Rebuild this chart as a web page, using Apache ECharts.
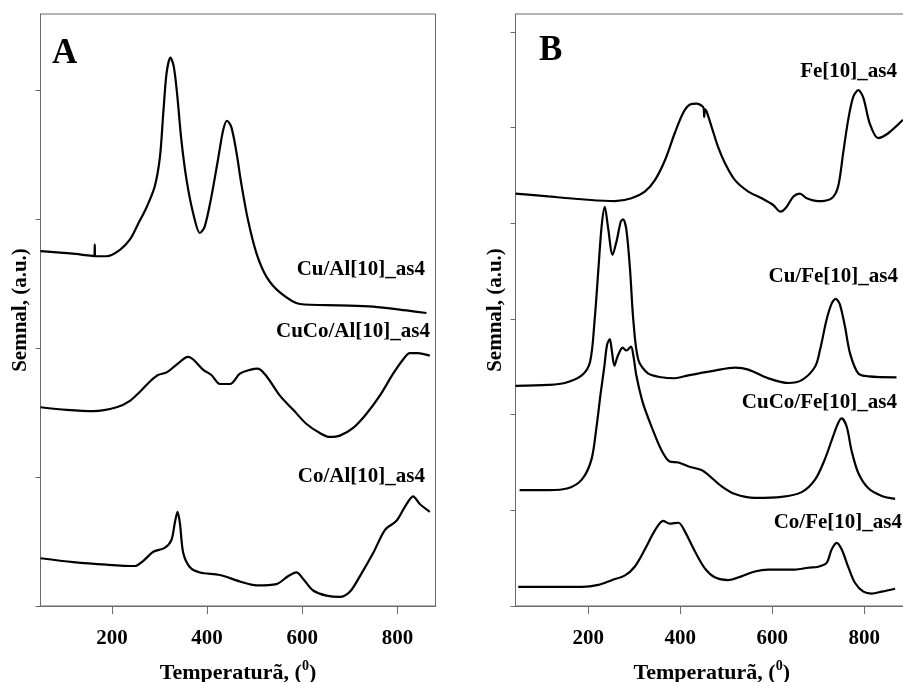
<!DOCTYPE html>
<html>
<head>
<meta charset="utf-8">
<script src="https://cdn.jsdelivr.net/npm/echarts@6.0.0/dist/echarts.min.js"></script>
<style>
html,body{margin:0;padding:0;background:#fff;}
#chart{width:903px;height:682px;}
</style>
</head>
<body>
<div id="chart"></div>
<script>
// ---------- DATA ----------
// Panel A
const tempCuAl = [50, 118, 163, 164, 165, 189, 217, 238, 255, 273, 290, 301, 308, 315, 323, 330, 337, 346, 357, 371, 385, 395, 409, 423, 434, 442, 451, 462, 472, 486, 504, 525, 553, 595, 679, 749, 819, 861];
const sigCuAl  = [2.75, 2.73, 2.71, 2.80, 2.71, 2.71, 2.76, 2.84, 2.96, 3.09, 3.25, 3.48, 3.82, 4.13, 4.25, 4.18, 3.97, 3.61, 3.30, 3.04, 2.89, 2.94, 3.17, 3.46, 3.69, 3.76, 3.71, 3.51, 3.27, 2.99, 2.73, 2.55, 2.43, 2.34, 2.33, 2.32, 2.29, 2.27];

const tempCuCoAl = [50, 105, 161, 210, 238, 259, 280, 297, 315, 336, 360, 371, 392, 409, 427, 448, 469, 490, 507, 525, 553, 581, 609, 637, 658, 679, 707, 735, 763, 791, 812, 826, 843, 868];
const sigCuCoAl  = [1.54, 1.52, 1.51, 1.54, 1.59, 1.66, 1.74, 1.79, 1.81, 1.87, 1.93, 1.91, 1.83, 1.79, 1.72, 1.72, 1.80, 1.83, 1.84, 1.78, 1.63, 1.52, 1.41, 1.34, 1.31, 1.32, 1.38, 1.49, 1.63, 1.80, 1.91, 1.96, 1.96, 1.94];

const tempCoAl = [50, 119, 189, 248, 266, 287, 311, 325, 332, 338, 343, 350, 364, 385, 427, 469, 504, 546, 570, 588, 602, 623, 651, 679, 700, 721, 749, 774, 798, 816, 833, 847, 868];
const sigCoAl  = [0.37, 0.34, 0.32, 0.31, 0.35, 0.42, 0.45, 0.51, 0.64, 0.73, 0.64, 0.41, 0.30, 0.26, 0.24, 0.19, 0.16, 0.17, 0.23, 0.26, 0.21, 0.12, 0.08, 0.07, 0.11, 0.23, 0.41, 0.59, 0.66, 0.77, 0.85, 0.79, 0.73];

// Panel B
const tempFe = [42, 113, 186, 258, 294, 323, 345, 367, 388, 406, 421, 436, 446, 451, 452, 454, 457, 468, 482, 497, 519, 548, 577, 602, 618, 631, 646, 660, 675, 700, 729, 743, 754, 765, 776, 787, 798, 812, 830, 852, 884];
const sigFe  = [4.31, 4.28, 4.25, 4.23, 4.26, 4.33, 4.45, 4.66, 4.94, 5.15, 5.24, 5.25, 5.23, 5.20, 5.11, 5.19, 5.17, 5.01, 4.80, 4.63, 4.45, 4.33, 4.26, 4.19, 4.12, 4.17, 4.28, 4.31, 4.26, 4.23, 4.26, 4.38, 4.73, 5.08, 5.32, 5.39, 5.31, 5.04, 4.89, 4.94, 5.08];

const tempCuFe = [42, 113, 149, 186, 204, 214, 222, 229, 236, 243, 253, 262, 271, 276, 283, 291, 298, 309, 330, 359, 388, 417, 475, 519, 548, 591, 635, 664, 693, 704, 718, 729, 738, 747, 758, 769, 787, 809, 870];
const sigCuFe  = [2.30, 2.31, 2.33, 2.41, 2.55, 2.99, 3.51, 3.96, 4.17, 3.96, 3.67, 3.82, 4.02, 4.04, 3.93, 3.51, 2.99, 2.57, 2.43, 2.39, 2.38, 2.41, 2.46, 2.49, 2.47, 2.38, 2.33, 2.36, 2.50, 2.68, 2.99, 3.16, 3.21, 3.15, 2.92, 2.64, 2.43, 2.40, 2.39];

const tempCuCoFe = [51, 113, 156, 186, 207, 218, 227, 235, 241, 247, 251, 257, 264, 275, 283, 293, 298, 305, 319, 338, 359, 377, 396, 417, 446, 461, 490, 519, 562, 620, 664, 693, 714, 732, 743, 751, 762, 772, 787, 809, 838, 867];
const sigCuCoFe  = [1.21, 1.21, 1.23, 1.32, 1.53, 1.87, 2.22, 2.50, 2.73, 2.79, 2.68, 2.51, 2.61, 2.70, 2.67, 2.71, 2.62, 2.40, 2.12, 1.87, 1.63, 1.51, 1.50, 1.46, 1.42, 1.37, 1.25, 1.17, 1.13, 1.14, 1.19, 1.32, 1.53, 1.77, 1.91, 1.96, 1.87, 1.63, 1.39, 1.23, 1.15, 1.12];

const tempCoFe = [48, 113, 186, 222, 251, 280, 301, 323, 345, 363, 377, 396, 410, 432, 454, 475, 504, 533, 562, 591, 620, 649, 678, 700, 718, 729, 740, 751, 765, 780, 798, 816, 838, 867];
const sigCoFe  = [0.20, 0.20, 0.20, 0.22, 0.27, 0.32, 0.41, 0.59, 0.79, 0.89, 0.86, 0.87, 0.78, 0.57, 0.39, 0.30, 0.27, 0.31, 0.36, 0.38, 0.38, 0.38, 0.40, 0.41, 0.45, 0.59, 0.66, 0.59, 0.41, 0.24, 0.15, 0.13, 0.15, 0.18];

// Axis ticks and labels
const xTickValues = [200, 400, 600, 800];
const yTickValuesA = [0, 1, 2, 3, 4];
const yTickValuesB = [0, 1, 2, 3, 4, 5, 6];
const seriesNamesA = ['Cu/Al[10]_as4', 'CuCo/Al[10]_as4', 'Co/Al[10]_as4'];
const seriesNamesB = ['Fe[10]_as4', 'Cu/Fe[10]_as4', 'CuCo/Fe[10]_as4', 'Co/Fe[10]_as4'];
const panelLetters = ['A', 'B'];
const xTitle = 'Temperaturã, (';
const xTitleSup = '0';
const yTitle = 'Semnal, (a.u.)';

// ---------- CHART ----------
const serif = '"Liberation Serif", "Times New Roman", serif';
const axisGray = '#6a6a6a';

function pairs(t, s) { return t.map((v, i) => [v, s[i]]); }

function makeX(gi, min, max) {
  return {
    type: 'value', gridIndex: gi, min: min, max: max,
    axisLine: { show: true, onZero: false, lineStyle: { color: axisGray, width: 1 } },
    axisTick: { show: true, length: 8, customValues: xTickValues, lineStyle: { color: axisGray } },
    axisLabel: { show: true, customValues: xTickValues, margin: 22, fontFamily: serif, fontWeight: 'bold', fontSize: 21, color: '#000' },
    splitLine: { show: false },
    name: '{t|' + xTitle + '}{s|' + xTitleSup + '}{t|)}',
    nameLocation: 'middle', nameGap: 53,
    nameTextStyle: {
      rich: {
        t: { fontFamily: serif, fontWeight: 'bold', fontSize: 22, color: '#000' },
        s: { fontFamily: serif, fontWeight: 'bold', fontSize: 14, color: '#000', padding: [0, 0, 14, 0] }
      }
    }
  };
}
function makeY(gi, max, ticks) {
  return {
    type: 'value', gridIndex: gi, min: 0, max: max,
    axisLine: { show: true, onZero: false, lineStyle: { color: axisGray, width: 1 } },
    axisTick: { show: true, length: 5, customValues: ticks, lineStyle: { color: axisGray } },
    axisLabel: { show: false },
    splitLine: { show: false },
    name: yTitle, nameLocation: 'middle', nameGap: 9,
    nameTextStyle: { fontFamily: serif, fontWeight: 'bold', fontSize: 21, color: '#000' }
  };
}
function line(name, xi, data) {
  return {
    name: name, type: 'line', xAxisIndex: xi, yAxisIndex: xi, data: data,
    showSymbol: false, symbol: 'none', silent: true, clip: true,
    smooth: 0.3,
    lineStyle: { color: '#000', width: 2.2 }
  };
}
function label(text, x, y, size, align) {
  return {
    type: 'text', silent: true,
    style: { text: text, x: x, y: y, align: align || 'right', verticalAlign: 'middle',
      fontFamily: serif, fontWeight: 'bold', fontSize: size || 21, fill: '#000' }
  };
}

const chart = echarts.init(document.getElementById('chart'), null, { renderer: 'canvas' });
chart.setOption({
  animation: false,
  backgroundColor: '#fff',
  grid: [
    { left: 40.5, top: 14, width: 395, height: 592, show: true, borderColor: axisGray, borderWidth: 1, backgroundColor: 'transparent', outerBoundsMode: 'none', containLabel: false },
    { left: 515.5, top: 14, width: 392.5, height: 592, show: true, borderColor: axisGray, borderWidth: 1, backgroundColor: 'transparent', outerBoundsMode: 'none', containLabel: false }
  ],
  xAxis: [ makeX(0, 50, 880), makeX(1, 42, 895) ],
  yAxis: [ makeY(0, 4.587, yTickValuesA), makeY(1, 6.186, yTickValuesB) ],
  series: [
    line(seriesNamesA[0], 0, pairs(tempCuAl, sigCuAl)),
    line(seriesNamesA[1], 0, pairs(tempCuCoAl, sigCuCoAl)),
    line(seriesNamesA[2], 0, pairs(tempCoAl, sigCoAl)),
    line(seriesNamesB[0], 1, pairs(tempFe, sigFe)),
    line(seriesNamesB[1], 1, pairs(tempCuFe, sigCuFe)),
    line(seriesNamesB[2], 1, pairs(tempCuCoFe, sigCuCoFe)),
    line(seriesNamesB[3], 1, pairs(tempCoFe, sigCoFe))
  ],
  graphic: [
    label(panelLetters[0], 52, 54, 35, 'left'),
    label(panelLetters[1], 539, 51, 35, 'left'),
    label(seriesNamesA[0], 425, 270),
    label(seriesNamesA[1], 430, 332),
    label(seriesNamesA[2], 425, 477),
    label(seriesNamesB[0], 897, 72),
    label(seriesNamesB[1], 898, 277),
    label(seriesNamesB[2], 897, 403),
    label(seriesNamesB[3], 902, 523)
  ]
});
</script>
</body>
</html>
